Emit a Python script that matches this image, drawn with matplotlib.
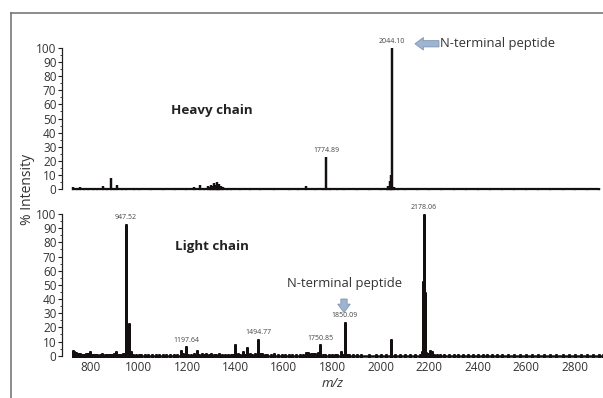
import numpy as np
import matplotlib
matplotlib.use("Agg")
import matplotlib.pyplot as plt
from matplotlib.lines import Line2D

plt.rcParams["font.family"] = ["Open Sans", "DejaVu Sans"]

# ---- heavy chain spectrum (m/z, % intensity) ----
heavy_mz = [730, 745, 760, 775, 790, 810, 830, 855, 870, 885, 900, 912, 930, 950, 980,
            1000, 1050, 1100, 1150, 1195, 1230, 1255, 1270, 1285, 1295, 1300, 1306,
            1310, 1318, 1324, 1328, 1332, 1340, 1350, 1365, 1380, 1420, 1460, 1500,
            1560, 1620, 1660, 1691, 1730, 1760, 1774.89, 1790, 1820, 1850, 1900, 1950,
            2000, 2025, 2030, 2036, 2040, 2044.10, 2048, 2055, 2070, 2100, 2150, 2200,
            2250, 2300, 2350, 2400, 2450, 2500, 2550, 2600, 2650, 2700, 2750, 2800,
            2850, 2900]
heavy_int = [1.2, 1.0, 1.5, 0.8, 1.0, 0.8, 1.0, 2.0, 1.0, 8.0, 1.0, 3.0, 0.8, 0.8, 0.6,
             0.7, 0.6, 0.7, 0.6, 0.8, 1.5, 2.5, 1.0, 2.0, 1.5, 3.0, 2.0, 4.0, 3.0, 5.0,
             2.5, 3.5, 2.0, 1.5, 1.0, 0.8, 0.6, 0.7, 0.6, 0.6, 0.7, 0.6, 2.0, 0.8, 0.7,
             23.0, 0.8, 0.6, 0.6, 0.6, 0.6, 0.7, 1.0, 2.0, 6.0, 10.0, 100.0, 3.0, 1.5,
             0.8, 0.6, 0.7, 0.6, 0.6, 0.8, 0.6, 0.6, 0.7, 0.6, 0.6, 0.7, 0.6, 0.7, 0.6,
             0.8, 0.6, 0.6]
heavy_labels = ["1774.89", "2044.10"]

# ---- light chain spectrum ----
light_mz = [730, 735, 740, 748, 755, 760, 768, 775, 782, 790, 800, 808, 815, 822, 830,
            840, 850, 860, 870, 878, 885, 893, 900, 906, 913, 920, 928, 935, 940, 947.52,
            952, 962, 970, 978, 990, 1000, 1010, 1025, 1040, 1055, 1070, 1085, 1100,
            1115, 1130, 1145, 1160, 1175, 1185, 1197.64, 1205, 1215, 1228, 1240, 1250,
            1260, 1270, 1280, 1290, 1300, 1310, 1320, 1332, 1345, 1358, 1370, 1380,
            1390, 1400, 1412, 1420, 1430, 1440, 1447, 1460, 1470, 1480, 1494.77, 1502,
            1510, 1520, 1530, 1545, 1560, 1575, 1590, 1605, 1620, 1635, 1650, 1665,
            1680, 1690, 1700, 1710, 1720, 1730, 1740, 1750.85, 1760, 1770, 1785, 1800,
            1810, 1820, 1835, 1842, 1850.09, 1854, 1862, 1870, 1885, 1900, 1920, 1950,
            1980, 2000, 2020, 2044, 2060, 2080, 2100, 2120, 2140, 2160, 2170, 2176,
            2178.06, 2181, 2188, 2195, 2203, 2210, 2220, 2230, 2245, 2260, 2280, 2300,
            2320, 2340, 2360, 2380, 2400, 2420, 2440, 2460, 2480, 2500, 2525, 2550,
            2575, 2600, 2625, 2650, 2675, 2700, 2725, 2750, 2775, 2800, 2825, 2850,
            2875, 2900, 2915]
light_int = [4.0, 3.0, 2.5, 2.0, 1.5, 2.0, 1.5, 1.5, 1.8, 1.8, 3.0, 1.5, 1.5, 1.2, 1.5,
             1.2, 1.8, 1.5, 1.5, 1.2, 1.5, 1.2, 2.0, 3.0, 1.5, 1.5, 1.2, 2.0, 2.0, 93.0,
             10.0, 23.0, 3.0, 1.5, 1.5, 1.2, 1.5, 1.2, 1.2, 1.5, 1.5, 1.2, 1.2,
             1.5, 1.5, 1.2, 1.5, 4.0, 2.0, 6.5, 1.5, 1.5, 2.0, 4.0, 1.5,
             2.0, 1.5, 2.0, 1.5, 2.0, 1.5, 1.5, 2.0, 1.5, 1.2, 1.2, 1.5,
             1.5, 8.0, 2.0, 1.5, 3.0, 1.5, 6.0, 2.0, 1.5, 2.0, 12.0, 2.0,
             2.0, 1.5, 1.5, 1.5, 2.0, 1.5, 1.5, 1.5, 1.5, 1.2, 1.5, 1.2,
             1.5, 2.5, 2.5, 2.0, 2.0, 2.0, 2.5, 8.0, 1.5, 1.5, 1.2, 1.5,
             1.5, 1.2, 3.0, 1.5, 24.0, 10.5, 1.5, 1.5, 1.2, 1.2, 1.2, 1.2,
             1.2, 1.2, 1.2, 11.5, 1.2, 1.2, 1.2, 1.2, 1.2, 1.5, 3.0, 53.0,
             100.0, 45.0, 2.5, 2.0, 4.0, 3.0, 1.5, 1.5, 1.2, 1.2, 1.2, 1.2,
             1.0, 1.0, 1.0, 1.0, 1.0, 1.0, 1.0, 1.0, 1.0, 1.0, 1.0, 1.0,
             1.0, 1.0, 1.0, 1.0, 1.0, 1.0, 1.0, 1.0, 1.0, 1.0, 1.0, 1.0,
             1.0, 1.0, 1.0]
light_labels = ["947.52", "1197.64", "1494.77", "1750.85", "1850.09", "2178.06"]

x_ticks = [800, 1000, 1200, 1400, 1600, 1800, 2000, 2200, 2400, 2600, 2800]
y_ticks = [0, 10, 20, 30, 40, 50, 60, 70, 80, 90, 100]

W, H = 603, 398
fig = plt.figure(figsize=(W / 100, H / 100), dpi=100)

ax1 = fig.add_axes([62 / W, 1 - 189 / H, 1 - 62 / W, 141 / H])
ax2 = fig.add_axes([62 / W, 1 - 355.7 / H, 1 - 62 / W, 141.7 / H])

def stick(ax, mz, inten, lw):
    mz = np.asarray(mz, float)
    inten = np.asarray(inten, float)
    xs = np.repeat(mz, 3)
    ys = np.column_stack([np.zeros_like(inten), inten, np.zeros_like(inten)]).ravel()
    ax.plot(xs, ys, color="#141010", lw=lw, solid_joinstyle="miter", clip_on=False)

for ax, mz, inten, lw in [(ax1, heavy_mz, heavy_int, 1.6), (ax2, light_mz, light_int, 1.8)]:
    stick(ax, mz, inten, lw)
    ax.set_xlim(684, 2917)
    ax.set_ylim(0, 100)
    for s in ["top", "right", "bottom"]:
        ax.spines[s].set_visible(False)
    ax.spines["left"].set_color("#222222")
    ax.spines["left"].set_linewidth(0.9)
    ax.set_yticks(y_ticks)
    ax.set_yticks(np.arange(5, 100, 10), minor=True)
    ax.tick_params(axis="y", which="major", length=3, width=0.8, pad=1,
                   labelsize=8.5, colors="#222222", labelcolor="#333333")
    ax.tick_params(axis="y", which="minor", length=1.5, width=0.6, colors="#222222")
    ax.patch.set_alpha(0)

ax1.set_xticks([])
ax2.set_xticks(x_ticks)
ax2.tick_params(axis="x", length=0, pad=4, labelsize=8.5, labelcolor="#333333")
ax2.set_xlabel("m/z", style="italic", fontsize=9.5, color="#333333", labelpad=2)

# peak labels
def label_peaks(ax, mz, inten, labels):
    for lab in labels:
        i = [f"{m:.2f}" for m in mz].index(lab)
        ax.annotate(lab, (mz[i], inten[i]), xytext=(0, 2), textcoords="offset points",
                    ha="center", va="bottom", fontsize=5, color="#444444",
                    annotation_clip=False)

label_peaks(ax1, heavy_mz, heavy_int, heavy_labels)
label_peaks(ax2, light_mz, light_int, light_labels)

ax1.text(1303, 56, "Heavy chain", ha="center", va="center", fontsize=9.6,
         fontweight="bold", color="#222222")
ax2.text(1303, 77, "Light chain", ha="center", va="center", fontsize=9.6,
         fontweight="bold", color="#222222")

arrow = dict(arrowstyle="simple,head_length=0.6,head_width=0.9,tail_width=0.45",
             fc="#9fb4cf", ec="#7f94b2", lw=0.6, shrinkA=0, shrinkB=0)
ax1.annotate("", xy=(2141, 103), xytext=(2240, 103), arrowprops=arrow,
             annotation_clip=False)
ax1.text(2244, 103, "N-terminal peptide", ha="left", va="center", fontsize=9.4,
         color="#333333", clip_on=False)
ax2.text(1848, 51, "N-terminal peptide", ha="center", va="center", fontsize=9.4,
         color="#333333")
ax2.annotate("", xy=(1848, 30.5), xytext=(1848, 40), arrowprops=arrow)

fig.text(28 / W, 1 - 189 / H, "% Intensity", rotation=90, ha="center", va="center",
         fontsize=10, color="#333333")

# outer frame
fig.add_artist(Line2D([11 / W, 1], [1 - 13 / H, 1 - 13 / H], color="#6e6e6e", lw=1.1))
fig.add_artist(Line2D([11 / W, 11 / W], [0, 1 - 13 / H], color="#6e6e6e", lw=1.1))

fig.savefig("out.png", dpi=100)
